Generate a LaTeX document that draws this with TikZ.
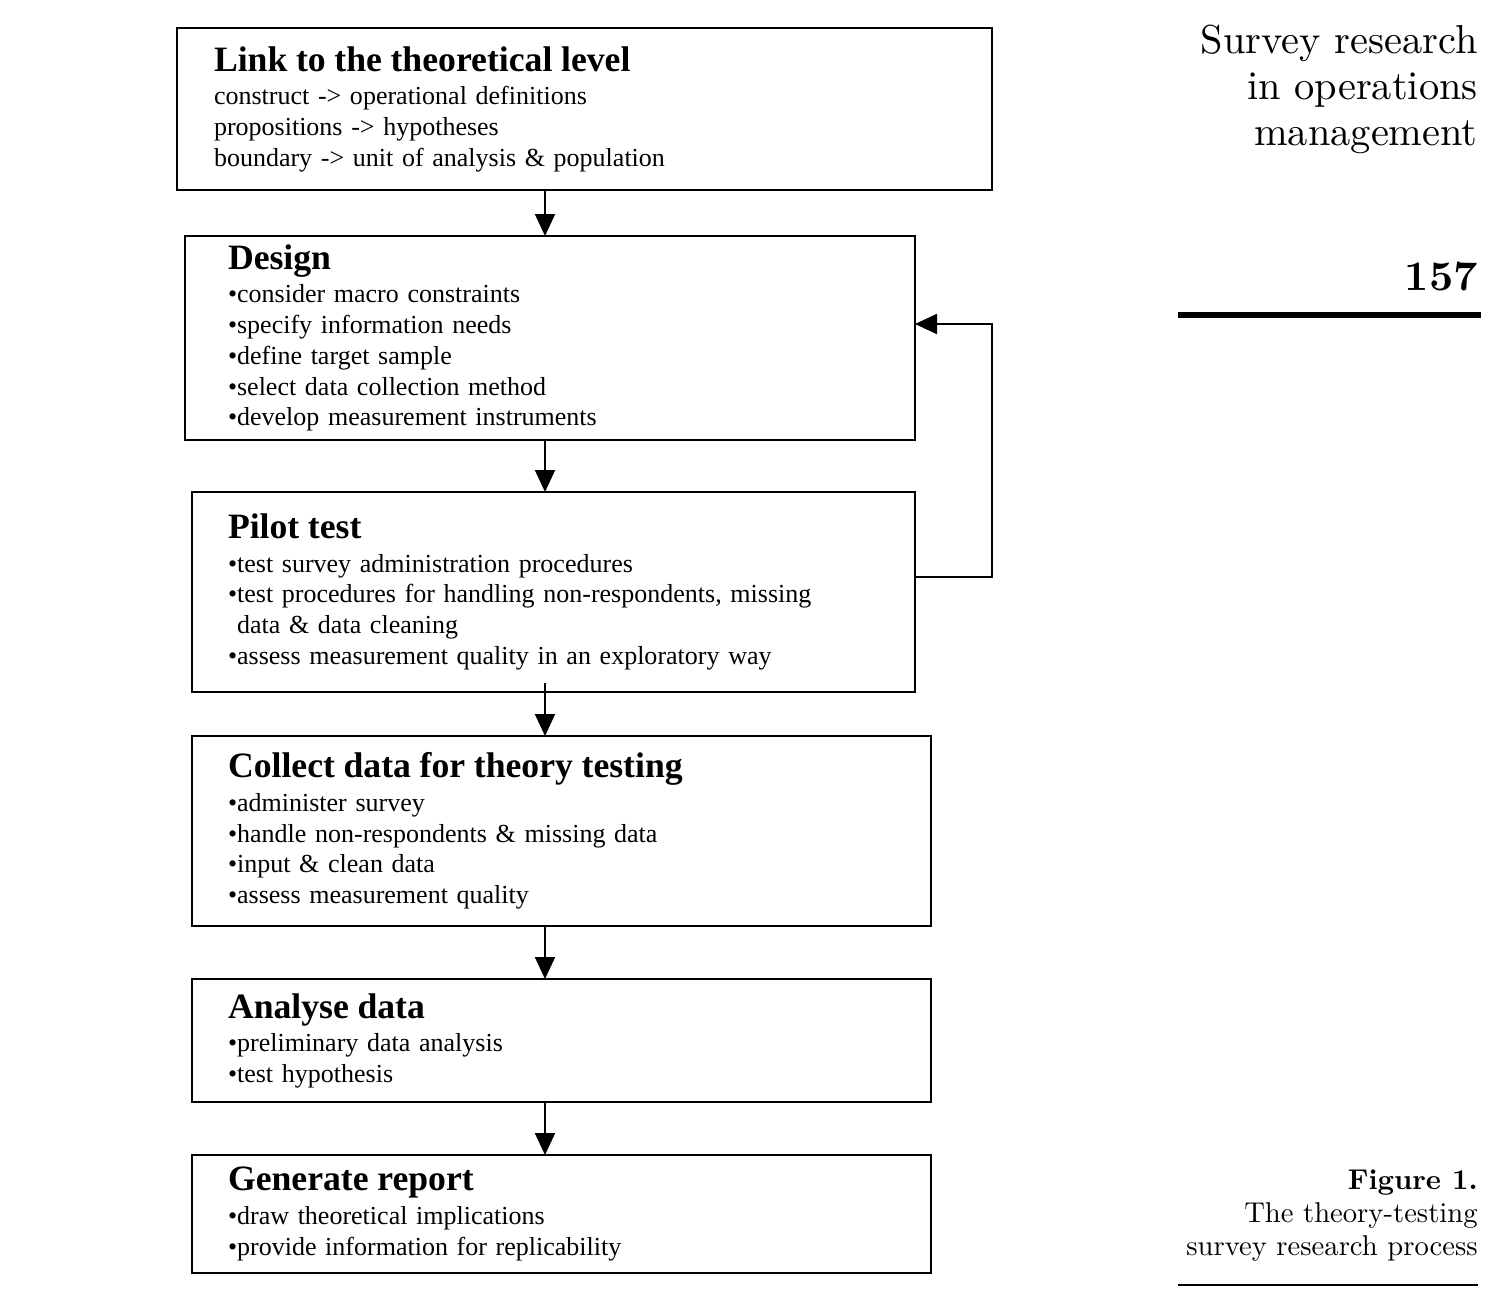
\documentclass[tikz,border=0pt]{standalone}
\usepackage{fontspec}
\usepackage{tikz}
\usetikzlibrary{arrows.meta,positioning,calc}
\newfontfamily\boxfont{Liberation Serif}
\newfontfamily\marginfont{lmroman10-regular}[Extension=.otf,BoldFont=lmroman10-bold]
\newcommand{\stagetitle}[1]{{\fontsize{20.3}{24}\selectfont\bfseries #1}}

\begin{document}
\begin{tikzpicture}[
    stage/.style={draw,line width=1.1pt,align=left,inner ysep=2pt,outer sep=0pt,
      font=\boxfont\fontsize{14.8}{17.5}\selectfont},
    flow/.style={-{Triangle[length=4.4mm,width=4mm]},line width=1.1pt}]
  \useasboundingbox (0,0) rectangle (29.96,-26.08);

  % stages
  \node[stage,text width=14.82cm,inner xsep=0.74cm,minimum height=3.24cm] (link) at (11.69,-2.18)
    {\stagetitle{Link to the theoretical level}\\[1.5pt]
     construct -> operational definitions\\
     propositions -> hypotheses\\
     boundary -> unit of analysis \& population};
  \node[stage,text width=12.88cm,inner xsep=0.86cm,minimum height=4.08cm] (design) at (11.0,-6.76)
    {\stagetitle{Design}\\[1.5pt]
     \textbullet consider macro constraints\\
     \textbullet specify information needs\\
     \textbullet define target sample\\
     \textbullet select data collection method\\
     \textbullet develop measurement instruments};
  \node[stage,text width=13.02cm,inner xsep=0.72cm,minimum height=4.0cm] (pilot) at (11.07,-11.84)
    {\stagetitle{Pilot test}\\[1.5pt]
     \textbullet test survey administration procedures\\
     \textbullet test procedures for handling non-respondents, missing\\
     \hphantom{\textbullet}data \& data cleaning\\
     \textbullet assess measurement quality in an exploratory way};
  \node[stage,text width=13.34cm,inner xsep=0.72cm,minimum height=3.8cm] (collect) at (11.23,-16.62)
    {\stagetitle{Collect data for theory testing}\\[1.5pt]
     \textbullet administer survey\\
     \textbullet handle non-respondents \& missing data\\
     \textbullet input \& clean data\\
     \textbullet assess measurement quality};
  \node[stage,text width=13.34cm,inner xsep=0.72cm,minimum height=2.46cm] (analyse) at (11.23,-20.81)
    {\stagetitle{Analyse data}\\[1.5pt]
     \textbullet preliminary data analysis\\
     \textbullet test hypothesis};
  \node[stage,text width=13.34cm,inner xsep=0.72cm,minimum height=2.36cm] (report) at (11.23,-24.28)
    {\stagetitle{Generate report}\\[1.5pt]
     \textbullet draw theoretical implications\\
     \textbullet provide information for replicability};

  % arrows
  \coordinate (ax) at (10.9,0);
  \coordinate (fb) at (19.84,-6.48);
  \draw[flow] (link.south -| ax) -- (design.north -| ax);
  \draw[flow] (design.south -| ax) -- (pilot.north -| ax);
  \draw[flow] ([yshift=1.8mm]pilot.south -| ax) -- (collect.north -| ax);
  \draw[flow] (collect.south -| ax) -- (analyse.north -| ax);
  \draw[flow] (analyse.south -| ax) -- (report.north -| ax);
  \draw[flow] ([yshift=3mm]pilot.east) -| (fb) -- (design.east |- fb);

  % margin text
  \node[anchor=north east,align=right,inner sep=0pt,font=\marginfont\fontsize{23}{26}\selectfont] (head) at (29.56,-0.5)
    {Survey research\\ in operations\\ management};
  \node[anchor=base east,inner sep=0pt,font=\marginfont\fontsize{24}{28}\selectfont\bfseries] (page) at (29.56,-5.8) {157};
  \draw[line width=1.2mm] (23.56,-6.3) -- (29.62,-6.3);
  \node[anchor=north east,align=right,inner sep=0pt,font=\marginfont\fontsize{16.3}{18.7}\selectfont] (caption) at (29.56,-23.4)
    {\textbf{Figure 1.}\\ The theory-testing\\ survey research process};
  \draw[line width=0.4mm] (23.56,-25.7) -- (29.56,-25.7);
\end{tikzpicture}
\end{document}
